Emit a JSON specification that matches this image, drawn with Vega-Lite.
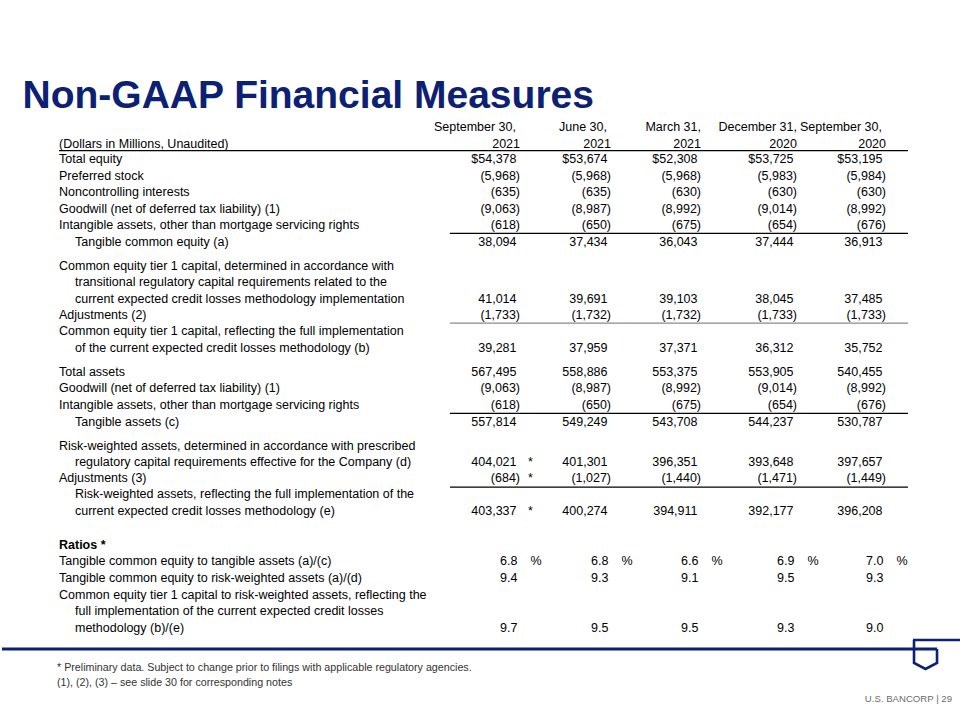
{
  "$schema": "https://vega.github.io/schema/vega-lite/v6.json",
  "width": 960,
  "height": 720,
  "autosize": {"type": "fit", "contains": "padding"},
  "padding": 0,
  "background": "#ffffff",
  "config": {"view": {"stroke": null}, "text": {"font": "Liberation Sans", "fontSize": 12.5, "color": "#000000", "baseline": "middle"}},
  "datasets": {
    "headers": [
      {"c": 1, "h1": "September 30,", "h2": "2021"},
      {"c": 2, "h1": "June 30,", "h2": "2021"},
      {"c": 3, "h1": "March 31,", "h2": "2021"},
      {"c": 4, "h1": "December 31,", "h2": "2020"},
      {"c": 5, "h1": "September 30,", "h2": "2020"}
    ],
    "labels": [
      {"r": 1, "c": 0, "t": "(Dollars in Millions, Unaudited)", "ind": 0, "b": 0},
      {"r": 2, "c": 0, "t": "Total equity", "ind": 0, "b": 0},
      {"r": 3, "c": 0, "t": "Preferred stock", "ind": 0, "b": 0},
      {"r": 4, "c": 0, "t": "Noncontrolling interests", "ind": 0, "b": 0},
      {"r": 5, "c": 0, "t": "Goodwill (net of deferred tax liability) (1)", "ind": 0, "b": 0},
      {"r": 6, "c": 0, "t": "Intangible assets, other than mortgage servicing rights", "ind": 0, "b": 0},
      {"r": 7, "c": 0, "t": "Tangible common equity (a)", "ind": 1, "b": 0},
      {"r": 8, "c": 0, "t": "Common equity tier 1 capital, determined in accordance with", "ind": 0, "b": 0},
      {"r": 9, "c": 0, "t": "transitional regulatory capital requirements related to the", "ind": 1, "b": 0},
      {"r": 10, "c": 0, "t": "current expected credit losses methodology implementation", "ind": 1, "b": 0},
      {"r": 11, "c": 0, "t": "Adjustments (2)", "ind": 0, "b": 0},
      {"r": 12, "c": 0, "t": "Common equity tier 1 capital, reflecting the full implementation", "ind": 0, "b": 0},
      {"r": 13, "c": 0, "t": "of the current expected credit losses methodology (b)", "ind": 1, "b": 0},
      {"r": 14, "c": 0, "t": "Total assets", "ind": 0, "b": 0},
      {"r": 15, "c": 0, "t": "Goodwill (net of deferred tax liability) (1)", "ind": 0, "b": 0},
      {"r": 16, "c": 0, "t": "Intangible assets, other than mortgage servicing rights", "ind": 0, "b": 0},
      {"r": 17, "c": 0, "t": "Tangible assets (c)", "ind": 1, "b": 0},
      {"r": 18, "c": 0, "t": "Risk-weighted assets, determined in accordance with prescribed", "ind": 0, "b": 0},
      {"r": 19, "c": 0, "t": "regulatory capital requirements effective for the Company (d)", "ind": 1, "b": 0},
      {"r": 20, "c": 0, "t": "Adjustments (3)", "ind": 0, "b": 0},
      {"r": 21, "c": 0, "t": "Risk-weighted assets, reflecting the full implementation of the", "ind": 1, "b": 0},
      {"r": 22, "c": 0, "t": "current expected credit losses methodology (e)", "ind": 1, "b": 0},
      {"r": 23, "c": 0, "t": "Ratios *", "ind": 0, "b": 1},
      {"r": 24, "c": 0, "t": "Tangible common equity to tangible assets (a)/(c)", "ind": 0, "b": 0},
      {"r": 25, "c": 0, "t": "Tangible common equity to risk-weighted assets (a)/(d)", "ind": 0, "b": 0},
      {"r": 26, "c": 0, "t": "Common equity tier 1 capital to risk-weighted assets, reflecting the", "ind": 0, "b": 0},
      {"r": 27, "c": 0, "t": "full implementation of the current expected credit losses", "ind": 1, "b": 0},
      {"r": 28, "c": 0, "t": "methodology (b)/(e)", "ind": 1, "b": 0}
    ],
    "cells": [
      {"r": 2, "c": 1, "v": 54378, "f": "usd"}, {"r": 2, "c": 2, "v": 53674, "f": "usd"}, {"r": 2, "c": 3, "v": 52308, "f": "usd"}, {"r": 2, "c": 4, "v": 53725, "f": "usd"}, {"r": 2, "c": 5, "v": 53195, "f": "usd"},
      {"r": 3, "c": 1, "v": -5968, "f": "int"}, {"r": 3, "c": 2, "v": -5968, "f": "int"}, {"r": 3, "c": 3, "v": -5968, "f": "int"}, {"r": 3, "c": 4, "v": -5983, "f": "int"}, {"r": 3, "c": 5, "v": -5984, "f": "int"},
      {"r": 4, "c": 1, "v": -635, "f": "int"}, {"r": 4, "c": 2, "v": -635, "f": "int"}, {"r": 4, "c": 3, "v": -630, "f": "int"}, {"r": 4, "c": 4, "v": -630, "f": "int"}, {"r": 4, "c": 5, "v": -630, "f": "int"},
      {"r": 5, "c": 1, "v": -9063, "f": "int"}, {"r": 5, "c": 2, "v": -8987, "f": "int"}, {"r": 5, "c": 3, "v": -8992, "f": "int"}, {"r": 5, "c": 4, "v": -9014, "f": "int"}, {"r": 5, "c": 5, "v": -8992, "f": "int"},
      {"r": 6, "c": 1, "v": -618, "f": "int"}, {"r": 6, "c": 2, "v": -650, "f": "int"}, {"r": 6, "c": 3, "v": -675, "f": "int"}, {"r": 6, "c": 4, "v": -654, "f": "int"}, {"r": 6, "c": 5, "v": -676, "f": "int"},
      {"r": 7, "c": 1, "v": 38094, "f": "int"}, {"r": 7, "c": 2, "v": 37434, "f": "int"}, {"r": 7, "c": 3, "v": 36043, "f": "int"}, {"r": 7, "c": 4, "v": 37444, "f": "int"}, {"r": 7, "c": 5, "v": 36913, "f": "int"},
      {"r": 10, "c": 1, "v": 41014, "f": "int"}, {"r": 10, "c": 2, "v": 39691, "f": "int"}, {"r": 10, "c": 3, "v": 39103, "f": "int"}, {"r": 10, "c": 4, "v": 38045, "f": "int"}, {"r": 10, "c": 5, "v": 37485, "f": "int"},
      {"r": 11, "c": 1, "v": -1733, "f": "int"}, {"r": 11, "c": 2, "v": -1732, "f": "int"}, {"r": 11, "c": 3, "v": -1732, "f": "int"}, {"r": 11, "c": 4, "v": -1733, "f": "int"}, {"r": 11, "c": 5, "v": -1733, "f": "int"},
      {"r": 13, "c": 1, "v": 39281, "f": "int"}, {"r": 13, "c": 2, "v": 37959, "f": "int"}, {"r": 13, "c": 3, "v": 37371, "f": "int"}, {"r": 13, "c": 4, "v": 36312, "f": "int"}, {"r": 13, "c": 5, "v": 35752, "f": "int"},
      {"r": 14, "c": 1, "v": 567495, "f": "int"}, {"r": 14, "c": 2, "v": 558886, "f": "int"}, {"r": 14, "c": 3, "v": 553375, "f": "int"}, {"r": 14, "c": 4, "v": 553905, "f": "int"}, {"r": 14, "c": 5, "v": 540455, "f": "int"},
      {"r": 15, "c": 1, "v": -9063, "f": "int"}, {"r": 15, "c": 2, "v": -8987, "f": "int"}, {"r": 15, "c": 3, "v": -8992, "f": "int"}, {"r": 15, "c": 4, "v": -9014, "f": "int"}, {"r": 15, "c": 5, "v": -8992, "f": "int"},
      {"r": 16, "c": 1, "v": -618, "f": "int"}, {"r": 16, "c": 2, "v": -650, "f": "int"}, {"r": 16, "c": 3, "v": -675, "f": "int"}, {"r": 16, "c": 4, "v": -654, "f": "int"}, {"r": 16, "c": 5, "v": -676, "f": "int"},
      {"r": 17, "c": 1, "v": 557814, "f": "int"}, {"r": 17, "c": 2, "v": 549249, "f": "int"}, {"r": 17, "c": 3, "v": 543708, "f": "int"}, {"r": 17, "c": 4, "v": 544237, "f": "int"}, {"r": 17, "c": 5, "v": 530787, "f": "int"},
      {"r": 19, "c": 1, "v": 404021, "f": "int", "n": "*"}, {"r": 19, "c": 2, "v": 401301, "f": "int"}, {"r": 19, "c": 3, "v": 396351, "f": "int"}, {"r": 19, "c": 4, "v": 393648, "f": "int"}, {"r": 19, "c": 5, "v": 397657, "f": "int"},
      {"r": 20, "c": 1, "v": -684, "f": "int", "n": "*"}, {"r": 20, "c": 2, "v": -1027, "f": "int"}, {"r": 20, "c": 3, "v": -1440, "f": "int"}, {"r": 20, "c": 4, "v": -1471, "f": "int"}, {"r": 20, "c": 5, "v": -1449, "f": "int"},
      {"r": 22, "c": 1, "v": 403337, "f": "int", "n": "*"}, {"r": 22, "c": 2, "v": 400274, "f": "int"}, {"r": 22, "c": 3, "v": 394911, "f": "int"}, {"r": 22, "c": 4, "v": 392177, "f": "int"}, {"r": 22, "c": 5, "v": 396208, "f": "int"},
      {"r": 24, "c": 1, "v": 6.8, "f": "pct"}, {"r": 24, "c": 2, "v": 6.8, "f": "pct"}, {"r": 24, "c": 3, "v": 6.6, "f": "pct"}, {"r": 24, "c": 4, "v": 6.9, "f": "pct"}, {"r": 24, "c": 5, "v": 7.0, "f": "pct"},
      {"r": 25, "c": 1, "v": 9.4, "f": "ratio"}, {"r": 25, "c": 2, "v": 9.3, "f": "ratio"}, {"r": 25, "c": 3, "v": 9.1, "f": "ratio"}, {"r": 25, "c": 4, "v": 9.5, "f": "ratio"}, {"r": 25, "c": 5, "v": 9.3, "f": "ratio"},
      {"r": 28, "c": 1, "v": 9.7, "f": "ratio"}, {"r": 28, "c": 2, "v": 9.5, "f": "ratio"}, {"r": 28, "c": 3, "v": 9.5, "f": "ratio"}, {"r": 28, "c": 4, "v": 9.3, "f": "ratio"}, {"r": 28, "c": 5, "v": 9.0, "f": "ratio"}
    ],
    "rules": [
      {"r": 1.45, "c": 0, "c2": 5.289, "k": "dark"},
      {"r": 6.5, "c": 0.848, "c2": 5.289, "k": "dark"},
      {"r": 11.5, "c": 0.848, "c2": 5.289, "k": "light"},
      {"r": 16.5, "c": 0.848, "c2": 5.289, "k": "dark"},
      {"r": 20.55, "c": 0.848, "c2": 5.289, "k": "dark"}
    ],
    "notes": [
      {"r": 30, "t": "* Preliminary data. Subject to change prior to filings with applicable regulatory agencies."},
      {"r": 31, "t": "(1), (2), (3) – see slide 30 for corresponding notes"}
    ]
  },
  "layer": [
    {
      "data": {"values": [{"t": "Non-GAAP Financial Measures"}]},
      "mark": {"type": "text", "align": "left", "fontSize": 39, "fontWeight": "bold", "color": "#0c2074"},
      "encoding": {
        "x": {"datum": -0.64, "type": "quantitative", "axis": null, "scale": {"domain": [-1, 0, 1, 2, 3, 4, 5, 6], "range": [0, 57, 518, 609, 699, 795, 884, 960], "zero": false, "nice": false}},
        "y": {"datum": -2, "type": "quantitative", "axis": null, "scale": {"domain": [-2, 0, 1, 2, 7, 8, 13, 14, 17, 18, 22, 23, 28, 29, 30, 31, 32], "range": [96.3, 127.2, 143.7, 159.2, 241.7, 265.7, 347.7, 371.7, 421.7, 445.7, 510.7, 544.7, 627.7, 649, 667.7, 682.7, 698.7], "zero": false, "nice": false}},
        "text": {"field": "t"}
      }
    },
    {
      "data": {"name": "headers"},
      "transform": [{"filter": "datum.c == 1 || datum.c == 2 || datum.c == 5"}],
      "mark": {"type": "text", "align": "right", "dx": -4},
      "encoding": {
        "x": {"field": "c", "type": "quantitative", "axis": null},
        "y": {"datum": 0, "type": "quantitative", "axis": null},
        "text": {"field": "h1"}
      }
    },
    {
      "data": {"name": "headers"},
      "transform": [{"filter": "datum.c == 3 || datum.c == 4"}],
      "mark": {"type": "text", "align": "right"},
      "encoding": {
        "x": {"field": "c", "type": "quantitative", "axis": null},
        "y": {"datum": 0, "type": "quantitative", "axis": null},
        "text": {"field": "h1"}
      }
    },
    {
      "data": {"name": "headers"},
      "mark": {"type": "text", "align": "right"},
      "encoding": {
        "x": {"field": "c", "type": "quantitative", "axis": null},
        "y": {"datum": 1, "type": "quantitative", "axis": null},
        "text": {"field": "h2"}
      }
    },
    {
      "data": {"name": "labels"},
      "transform": [{"filter": "datum.ind == 0 && datum.b == 0"}],
      "mark": {"type": "text", "align": "left"},
      "encoding": {
        "x": {"field": "c", "type": "quantitative", "axis": null},
        "y": {"field": "r", "type": "quantitative", "axis": null},
        "text": {"field": "t"}
      }
    },
    {
      "data": {"name": "labels"},
      "transform": [{"filter": "datum.ind == 1"}],
      "mark": {"type": "text", "align": "left", "dx": 16},
      "encoding": {
        "x": {"field": "c", "type": "quantitative", "axis": null},
        "y": {"field": "r", "type": "quantitative", "axis": null},
        "text": {"field": "t"}
      }
    },
    {
      "data": {"name": "labels"},
      "transform": [{"filter": "datum.b == 1"}],
      "mark": {"type": "text", "align": "left", "fontWeight": "bold"},
      "encoding": {
        "x": {"field": "c", "type": "quantitative", "axis": null},
        "y": {"field": "r", "type": "quantitative", "axis": null},
        "text": {"field": "t"}
      }
    },
    {
      "data": {"name": "cells"},
      "transform": [{"filter": "datum.f == 'usd'"}],
      "mark": {"type": "text", "align": "right", "dx": -3.5},
      "encoding": {
        "x": {"field": "c", "type": "quantitative", "axis": null},
        "y": {"field": "r", "type": "quantitative", "axis": null},
        "text": {"field": "v", "type": "quantitative", "format": "$,.0f"}
      }
    },
    {
      "data": {"name": "cells"},
      "transform": [{"filter": "datum.f == 'int' && datum.v < 0"}],
      "mark": {"type": "text", "align": "right"},
      "encoding": {
        "x": {"field": "c", "type": "quantitative", "axis": null},
        "y": {"field": "r", "type": "quantitative", "axis": null},
        "text": {"field": "v", "type": "quantitative", "format": "(,.0f"}
      }
    },
    {
      "data": {"name": "cells"},
      "transform": [{"filter": "datum.f == 'int' && datum.v >= 0"}],
      "mark": {"type": "text", "align": "right", "dx": -3.5},
      "encoding": {
        "x": {"field": "c", "type": "quantitative", "axis": null},
        "y": {"field": "r", "type": "quantitative", "axis": null},
        "text": {"field": "v", "type": "quantitative", "format": ",.0f"}
      }
    },
    {
      "data": {"name": "cells"},
      "transform": [{"filter": "datum.f == 'pct' || datum.f == 'ratio'"}],
      "mark": {"type": "text", "align": "right", "dx": -2.5},
      "encoding": {
        "x": {"field": "c", "type": "quantitative", "axis": null},
        "y": {"field": "r", "type": "quantitative", "axis": null},
        "text": {"field": "v", "type": "quantitative", "format": ".1f"}
      }
    },
    {
      "data": {"name": "cells"},
      "transform": [{"filter": "datum.f == 'pct'"}],
      "mark": {"type": "text", "align": "left", "dx": 10.5, "text": "%"},
      "encoding": {
        "x": {"field": "c", "type": "quantitative", "axis": null},
        "y": {"field": "r", "type": "quantitative", "axis": null}
      }
    },
    {
      "data": {"name": "cells"},
      "transform": [{"filter": "datum.n == '*'"}],
      "mark": {"type": "text", "align": "left", "dx": 8},
      "encoding": {
        "x": {"field": "c", "type": "quantitative", "axis": null},
        "y": {"field": "r", "type": "quantitative", "axis": null},
        "text": {"field": "n"}
      }
    },
    {
      "data": {"name": "rules"},
      "mark": {"type": "rule", "strokeWidth": 1.3},
      "encoding": {
        "x": {"field": "c", "type": "quantitative", "axis": null},
        "x2": {"field": "c2"},
        "y": {"field": "r", "type": "quantitative", "axis": null},
        "color": {"field": "k", "type": "nominal", "legend": null, "scale": {"domain": ["dark", "light"], "range": ["#000000", "#8a8a8a"]}}
      }
    },
    {
      "data": {"values": [{"t": "footer"}]},
      "mark": {"type": "rule", "strokeWidth": 3, "color": "#0c2074"},
      "encoding": {
        "x": {"datum": -1, "type": "quantitative", "axis": null},
        "x2": {"datum": 5.671},
        "y": {"datum": 29, "type": "quantitative", "axis": null}
      }
    },
    {
      "data": {"values": [{"t": "logo"}]},
      "mark": {"type": "point", "filled": false, "size": 841, "strokeWidth": 2.6, "color": "#0c2074", "opacity": 1, "shape": "M-0.862,-0.621L2.517,-0.621M-0.793,-0.621L-0.793,0.966L0,1.379L0.793,0.966L0.793,0"},
      "encoding": {
        "x": {"datum": 5.52, "type": "quantitative", "axis": null},
        "y": {"datum": 29, "type": "quantitative", "axis": null}
      }
    },
    {
      "data": {"name": "notes"},
      "mark": {"type": "text", "align": "left", "font": "Liberation Sans", "fontSize": 10.7, "color": "#333333", "dx": -2},
      "encoding": {
        "x": {"datum": 0, "type": "quantitative", "axis": null},
        "y": {"field": "r", "type": "quantitative", "axis": null},
        "text": {"field": "t"}
      }
    },
    {
      "data": {"values": [{"t": "U.S. BANCORP  |  29"}]},
      "mark": {"type": "text", "align": "right", "font": "Liberation Sans", "fontSize": 9.6, "letterSpacing": 0.2, "color": "#6b6b6b"},
      "encoding": {
        "x": {"datum": 5.868, "type": "quantitative", "axis": null},
        "y": {"datum": 32, "type": "quantitative", "axis": null},
        "text": {"field": "t"}
      }
    }
  ]
}
